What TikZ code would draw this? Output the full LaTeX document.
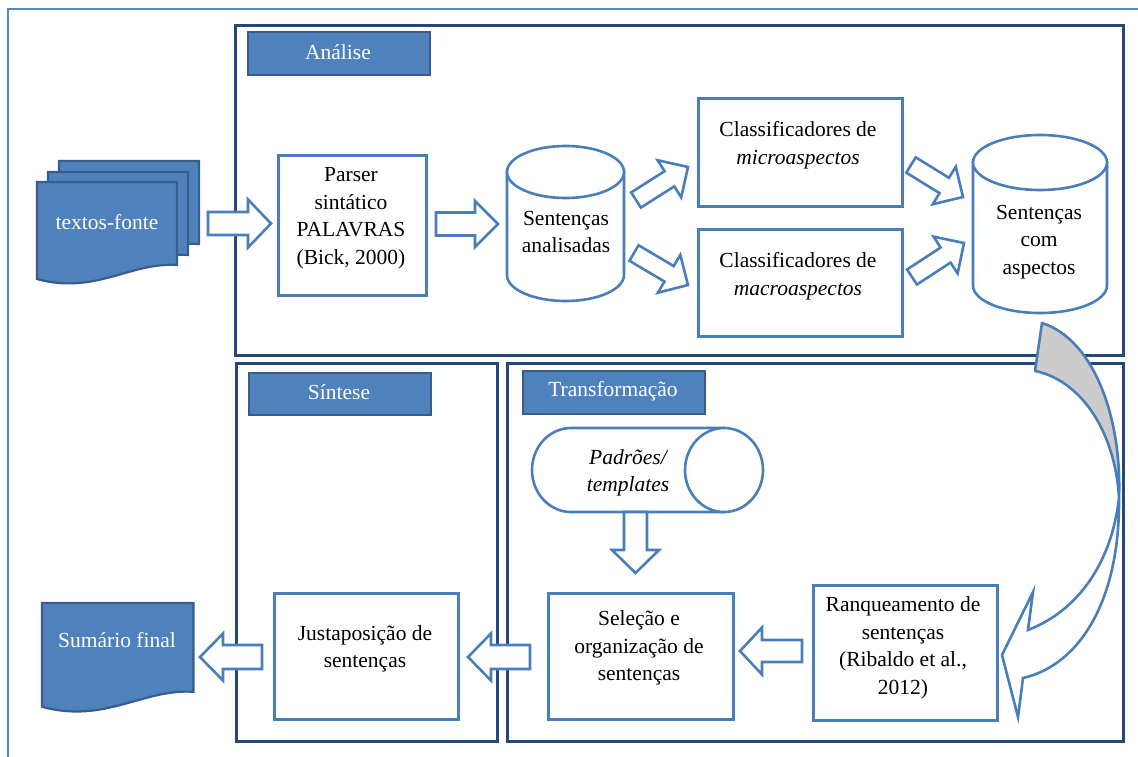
\documentclass[tikz,border=0pt]{standalone}
\usepackage{fontspec}
\setmainfont{Liberation Serif}
\usetikzlibrary{calc}
\definecolor{lb}{RGB}{74,126,187}
\definecolor{ob}{RGB}{86,135,196}
\definecolor{db}{RGB}{38,72,120}
\definecolor{tabf}{RGB}{79,129,189}
\definecolor{tabb}{RGB}{56,93,138}
\definecolor{grayc}{RGB}{204,204,204}
\newcommand\blockarr[5]{%
  \coordinate (hb) at ($(#2)!#5!(#1)$);
  \filldraw[blk] ($(#1)!#3!90:(#2)$) -- ($(hb)!#3!-90:(#1)$) -- ($(hb)!#4!-90:(#1)$) -- (#2) -- ($(hb)!#4!90:(#1)$) -- ($(hb)!#3!90:(#1)$) -- ($(#1)!#3!-90:(#2)$) -- cycle;}
\begin{document}
\begin{tikzpicture}[x=1pt,y=-1pt,
  box/.style={draw=lb, line width=2.6pt, fill=white, anchor=north west, inner sep=0pt},
  frame/.style={draw=db, line width=3pt},
  tab/.style={draw=tabb, fill=tabf, line width=2.2pt, anchor=north west, inner sep=0pt},
  blk/.style={draw=lb, line width=2.6pt, fill=white, line join=miter},
  cyl/.style={draw=lb, line width=2.6pt, fill=white},
  doc/.style={draw=tabb, fill=tabf, line width=2.2pt},
  txt/.style={align=center, inner sep=0pt, font=\fontsize{21.5}{27.5}\selectfont},
  btxt/.style={txt, yshift=-2pt},
  wtxt/.style={txt, text=white}]
\useasboundingbox (0,0) rectangle (1138,756);
\fill[white] (0,0) rectangle (1138,756);
% outer frame
\draw[draw=ob, line width=2.8pt] (8,770) -- (8,9) -- (1150,9);
% section frames
\draw[frame] (235,25) rectangle (1123,355);
\draw[frame] (236,363) rectangle (497,741);
\draw[frame] (507,363) rectangle (1123,741);
% tabs
\node[tab, minimum width=182pt, minimum height=43pt] (tabA) at (247,31) {};
\node[tab, minimum width=182pt, minimum height=42pt] (tabS) at (248,372) {};
\node[tab, minimum width=182pt, minimum height=43pt] (tabT) at (522,370) {};
\node[wtxt] (tA) at (338,52) {Análise};
\node[wtxt] (tS) at (339,392) {Síntese};
\node[wtxt] (tT) at (613,391) {Transformação};
% source documents
\foreach \dx/\dy in {59/161, 48/172, 37/182} {
  \begin{scope}[shift={(\dx,\dy)}]
    \filldraw[doc] (0,0) -- (140,0) -- (140,83) .. controls (93,80) and (58,113) .. (0,97) -- cycle;
  \end{scope}
}
\node[wtxt] (textos) at (107,222) {textos-fonte};
% final summary document
\begin{scope}[shift={(42,603)}, xscale=1.082, yscale=1.07]
  \filldraw[doc] (0,0) -- (140,0) -- (140,83) .. controls (93,80) and (58,113) .. (0,97) -- cycle;
\end{scope}
\node[wtxt] (sumario) at (117,640) {Sumário final};
% boxes
\node[box, minimum width=148pt, minimum height=140pt] (parser) at (277,154) {};
\node[box, minimum width=204pt, minimum height=108pt] (micro) at (697,97) {};
\node[box, minimum width=204pt, minimum height=107pt] (macro) at (697,228) {};
\node[box, minimum width=185pt, minimum height=126pt] (sel) at (547,592) {};
\node[box, minimum width=184pt, minimum height=135pt] (ranq) at (812,584) {};
\node[box, minimum width=184pt, minimum height=126pt] (just) at (273,592) {};
% cylinder: Sentencas analisadas
\filldraw[cyl] (507,172) -- (507,275) arc[start angle=180, end angle=360, x radius=58.5pt, y radius=26pt] -- (624,172) -- cycle;
\draw[cyl] (565.5,172) ellipse [x radius=58.5pt, y radius=26pt];
\coordinate (anal) at (565.5,231);
% cylinder: Sentencas com aspectos
\filldraw[cyl] (973,162.5) -- (973,285.5) arc[start angle=180, end angle=360, x radius=67pt, y radius=27.5pt] -- (1107,162.5) -- cycle;
\draw[cyl] (1040,162.5) ellipse [x radius=67pt, y radius=27.5pt];
\coordinate (comasp) at (1040,241);
% horizontal cylinder: Padroes/templates
\filldraw[cyl] (724,428) -- (571,428) arc[start angle=90, end angle=270, x radius=39pt, y radius=42pt] -- (724,512) -- cycle;
\draw[cyl] (724,470) ellipse [x radius=39pt, y radius=42pt];
\coordinate (padroes) at (628,471);
% texts
\node[btxt] (tparser) at (351,216) {Parser\\sintático\\PALAVRAS\\(Bick, 2000)};
\node[btxt] (tanal) at (566,230) {Sentenças\\analisadas};
\node[btxt] (tmicro) at (798,143) {Classificadores de\\\textit{microaspectos}};
\node[btxt] (tmacro) at (798,274) {Classificadores de\\\textit{macroaspectos}};
\node[btxt] (tcom) at (1039,240) {Sentenças\\com\\aspectos};
\node[btxt, font=\fontsize{21.5}{27.5}\selectfont\itshape] (tpad) at (628,471) {Padrões/\\templates};
\node[btxt] (tsel) at (639,646) {Seleção e\\organização de\\sentenças};
\node[btxt] (tranq) at (903,646) {Ranqueamento de\\sentenças\\(Ribaldo et al.,\\2012)};
\node[btxt] (tjust) at (365,647) {Justaposição de\\sentenças};
% block arrows
\coordinate (a1t) at (208,223.5); \coordinate (a1h) at (271,223.5);
\blockarr{a1t}{a1h}{11.5pt}{24pt}{23pt}
\coordinate (a2t) at (436,224); \coordinate (a2h) at (498,224);
\blockarr{a2t}{a2h}{11.5pt}{23pt}{23pt}
\coordinate (a3t) at (636,200); \coordinate (a3h) at (688,167);
\blockarr{a3t}{a3h}{9pt}{22pt}{22pt}
\coordinate (a4t) at (634,253); \coordinate (a4h) at (688,285);
\blockarr{a4t}{a4h}{9pt}{22pt}{22pt}
\coordinate (a5t) at (911,165); \coordinate (a5h) at (963,197);
\blockarr{a5t}{a5h}{9pt}{22pt}{22pt}
\coordinate (a6t) at (912,277); \coordinate (a6h) at (964,243);
\blockarr{a6t}{a6h}{9pt}{22pt}{22pt}
\coordinate (a7t) at (635.5,512); \coordinate (a7h) at (635.5,573);
\blockarr{a7t}{a7h}{11.5pt}{23.5pt}{23pt}
\coordinate (a8t) at (802,651); \coordinate (a8h) at (740,651);
\blockarr{a8t}{a8h}{11pt}{23.5pt}{22pt}
\coordinate (a9t) at (530,657); \coordinate (a9h) at (468,657);
\blockarr{a9t}{a9h}{12pt}{23.5pt}{23pt}
\coordinate (a10t) at (262,657); \coordinate (a10h) at (200,657);
\blockarr{a10t}{a10h}{12pt}{23.5pt}{23pt}
% curved arrow
\filldraw[draw=lb, fill=grayc, line width=2.6pt, line join=round] (1042,323) .. controls (1095,340) and (1122,420) .. (1119,498) .. controls (1115,430) and (1080,380) .. (1035,371) -- cycle;
\filldraw[draw=lb, fill=white, line width=2.6pt, line join=miter] (1119,498) .. controls (1112,560) and (1080,610) .. (1028,630) -- (1033,592) -- (1002,655) -- (1018,717) -- (1023,678) .. controls (1080,665) and (1120,600) .. (1119,498) -- cycle;
\end{tikzpicture}
\end{document}
